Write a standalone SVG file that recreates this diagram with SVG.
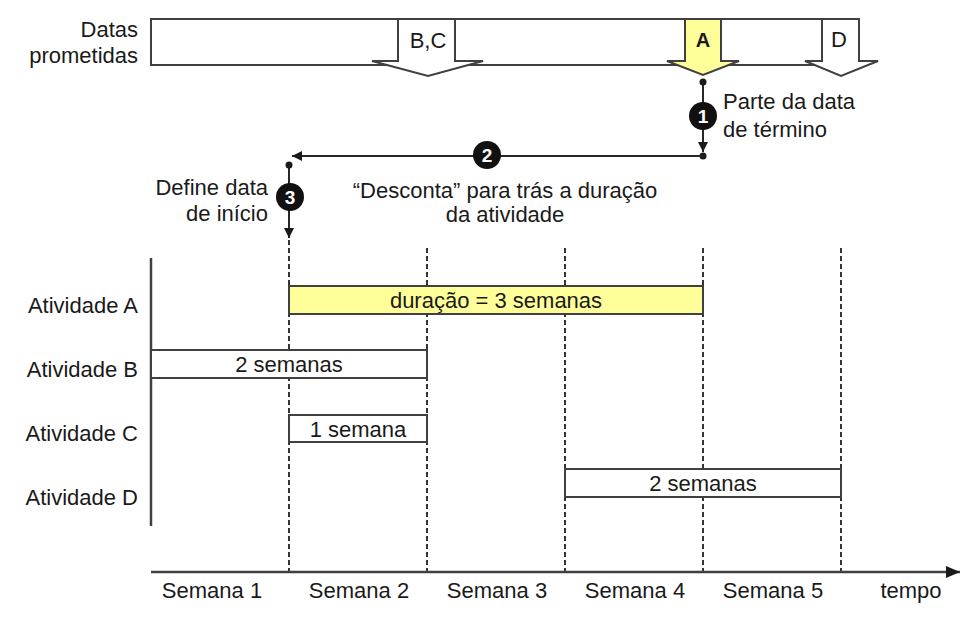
<svg xmlns="http://www.w3.org/2000/svg" width="973" height="617" viewBox="0 0 973 617">
<style>
text{font-family:"Liberation Sans",Arial,sans-serif;font-size:22px;fill:#1a1a1a}
.mid{text-anchor:middle}
.end{text-anchor:end}
.num{font-family:"Liberation Sans",Arial,sans-serif;font-size:19px;font-weight:bold;fill:#fff;text-anchor:middle}
.box{fill:#fff;stroke:#404040;stroke-width:2}
.yel{fill:#ffff9a;stroke:#404040;stroke-width:2}
.ln{fill:none;stroke:#262626;stroke-width:2}
.dash{fill:none;stroke:#333;stroke-width:2;stroke-dasharray:5 3}
.axis{fill:none;stroke:#404040;stroke-width:2.5}
</style>
<defs>
<marker id="ah" markerUnits="userSpaceOnUse" markerWidth="12" markerHeight="10" refX="10" refY="5" orient="auto">
<path d="M0,0 L10,5 L0,10 Z" fill="#1a1a1a"/>
</marker>
<marker id="ahBig" markerUnits="userSpaceOnUse" markerWidth="16" markerHeight="14" refX="14" refY="7" orient="auto">
<path d="M0,1 L14,7 L0,13 Z" fill="#1a1a1a"/>
</marker>
<marker id="dot" markerUnits="userSpaceOnUse" markerWidth="8" markerHeight="8" refX="4" refY="4">
<circle cx="4" cy="4" r="3.5" fill="#1a1a1a"/>
</marker>
</defs>
<rect width="973" height="617" fill="#fff"/>

<g id="datas-prometidas">
<text class="end" x="138" y="37">Datas</text>
<text class="end" x="138" y="63">prometidas</text>
<rect class="box" x="151" y="19" width="708" height="46"/>
</g>

<g id="data-BC">
<path class="box" d="M398,19 L455,19 L455,61 L483,61 L428,76 L372,61 L398,61 Z"/>
<text class="mid" x="428" y="48">B,C</text>
</g>
<g id="data-A">
<path class="yel" d="M685,19 L721,19 L721,61 L739,61 L703,75 L667,61 L685,61 Z"/>
<text class="mid" x="703" y="47" style="font-weight:bold;font-size:20px">A</text>
</g>
<g id="data-D">
<path class="box" d="M822,19 L859,19 L859,61 L878,61 L841,76 L805,61 L822,61 Z"/>
<text class="mid" x="839" y="47">D</text>
</g>

<g id="connectors">
<line class="dash" x1="289" y1="240" x2="289" y2="572"/>
<line class="dash" x1="427" y1="248" x2="427" y2="572"/>
<line class="dash" x1="565" y1="248" x2="565" y2="572"/>
<line class="dash" x1="703" y1="248" x2="703" y2="572"/>
<line class="dash" x1="841" y1="248" x2="841" y2="572"/>
<line class="ln" x1="703" y1="82" x2="703" y2="152" marker-start="url(#dot)" marker-end="url(#ah)"/>
<circle cx="703" cy="156" r="3.5" fill="#1a1a1a"/>
<line class="ln" x1="703" y1="156" x2="292" y2="156" marker-end="url(#ah)"/>
<line class="ln" x1="289" y1="165" x2="289" y2="238" marker-start="url(#dot)" marker-end="url(#ah)"/>
<line class="axis" x1="151" y1="258" x2="151" y2="526"/>
<line class="axis" x1="151" y1="572" x2="960" y2="572" marker-end="url(#ahBig)"/>
</g>

<g id="passo-1">
<circle cx="703" cy="116" r="14" fill="#111"/>
<text class="num" x="703" y="123">1</text>
<text x="723" y="109">Parte da data</text>
<text x="723" y="137">de término</text>
</g>
<g id="passo-2">
<circle cx="487" cy="155" r="14" fill="#111"/>
<text class="num" x="487" y="162">2</text>
<text class="mid" x="505" y="198">“Desconta” para trás a duração</text>
<text class="mid" x="505" y="222">da atividade</text>
</g>
<g id="passo-3">
<circle cx="290" cy="197" r="14" fill="#111"/>
<text class="num" x="290" y="204">3</text>
<text class="end" x="268" y="195">Define data</text>
<text class="end" x="268" y="221">de início</text>
</g>

<g id="atividade-A">
<text class="end" x="138" y="313">Atividade A</text>
<rect class="yel" x="289" y="286" width="414" height="28"/>
<text class="mid" x="496" y="308">duração = 3 semanas</text>
</g>
<g id="atividade-B">
<text class="end" x="138" y="377">Atividade B</text>
<rect class="box" x="151" y="350" width="276" height="28"/>
<text class="mid" x="289" y="372">2 semanas</text>
</g>
<g id="atividade-C">
<text class="end" x="138" y="441">Atividade C</text>
<rect class="box" x="289" y="415" width="138" height="27"/>
<text class="mid" x="358" y="437">1 semana</text>
</g>
<g id="atividade-D">
<text class="end" x="138" y="505">Atividade D</text>
<rect class="box" x="565" y="469" width="276" height="28"/>
<text class="mid" x="703" y="491">2 semanas</text>
</g>

<g id="semanas">
<text class="mid" x="212" y="598">Semana 1</text>
<text class="mid" x="359" y="598">Semana 2</text>
<text class="mid" x="497" y="598">Semana 3</text>
<text class="mid" x="635" y="598">Semana 4</text>
<text class="mid" x="773" y="598">Semana 5</text>
<text class="mid" x="911" y="598">tempo</text>
</g>
</svg>
